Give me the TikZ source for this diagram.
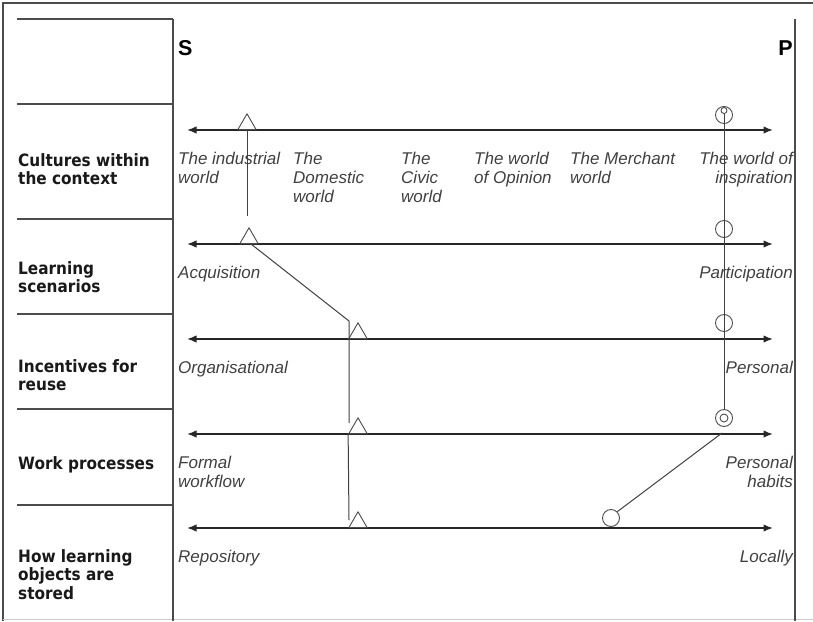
\documentclass[tikz,border=0pt]{standalone}
\usepackage{fontspec}
\setmainfont{Liberation Sans}
\newfontfamily\rowfont[FakeStretch=0.9]{DejaVu Sans}
\usetikzlibrary{arrows.meta,shapes.geometric}

\begin{document}
\begin{tikzpicture}[x=1pt,y=-1pt,
  frame/.style={draw=black!70,line width=1.6pt},
  rule/.style={draw=black!70,line width=1.2pt},
  axis/.style={draw=black!85,line width=1.6pt,
    {Latex[length=9.5pt,width=7.5pt]}-{Latex[length=9.5pt,width=7.5pt]}},
  link/.style={draw=black!75,line width=1pt},
  tri/.style={draw=black!70,line width=0.9pt,regular polygon,
    regular polygon sides=3,minimum size=21pt,inner sep=0pt,anchor=south},
  ring/.style={draw=black!70,line width=0.9pt,circle,minimum size=17pt,inner sep=0pt},
  rowlabel/.style={font=\rowfont\bfseries\fontsize{17}{18.5}\selectfont,
    align=left,anchor=north west,inner sep=0pt,text=black!90},
  pole/.style={font=\bfseries\fontsize{21.5}{21.5}\selectfont,inner sep=0pt},
  endL/.style={font=\itshape\fontsize{17}{19}\selectfont,align=left,
    anchor=north west,inner sep=0pt,text=black!75},
  endR/.style={endL,align=right,anchor=north east},
]
\useasboundingbox (0,0) rectangle (813,621);

% outer frame
\draw[frame] (3,621) -- (3,3) -- (813,3);
\draw[draw=black!20,line width=1pt] (3,619.5) -- (813,619.5);

% table rules
\draw[rule] (173,19) -- (173,621);
\draw[rule] (795,19) -- (795,621);
\foreach \yy in {19,104,219,314,409,505}
  \draw[rule] (17,\yy) -- (173,\yy);

% poles
\node[pole,anchor=base west] (S) at (178,55) {S};
\node[pole,anchor=base east] (P) at (793,55) {P};

% row labels
\node[rowlabel] (r1) at (18,153) {Cultures within\\the context};
\node[rowlabel] (r2) at (18,261) {Learning\\scenarios};
\node[rowlabel] (r3) at (18,359) {Incentives for\\reuse};
\node[rowlabel] (r4) at (18,456) {Work processes};
\node[rowlabel] (r5) at (18,549) {How learning\\objects are\\stored};

% axes
\foreach \i/\yy in {1/130,2/244,3/339,4/434,5/528}{
  \coordinate (aL\i) at (187,\yy);
  \coordinate (aR\i) at (773,\yy);
  \draw[axis] (aL\i) -- (aR\i);
}

% end labels
\node[endL] (l11) at (178,152) {The industrial\\world};
\node[endL] (l12) at (293,152) {The\\Domestic\\world};
\node[endL] (l13) at (401,152) {The\\Civic\\world};
\node[endL] (l14) at (474,152) {The world\\of Opinion};
\node[endL] (l15) at (570,152) {The Merchant\\world};
\node[endR] (l16) at (793,152) {The world of\\inspiration};

\node[endL] (l21) at (178,266) {Acquisition};
\node[endR] (l22) at (793,266) {Participation};
\node[endL] (l31) at (178,361) {Organisational};
\node[endR] (l32) at (793,361) {Personal};
\node[endL] (l41) at (178,456) {Formal\\workflow};
\node[endR] (l42) at (793,456) {Personal\\habits};
\node[endL] (l51) at (178,550) {Repository};
\node[endR] (l52) at (793,550) {Locally};

% S-profile markers
\node[tri] (t1) at (247,130) {};
\node[tri] (t2) at (249,244) {};
\node[tri] (t3) at (358,339) {};
\node[tri] (t4) at (358,434) {};
\node[tri] (t5) at (358,528) {};

\coordinate (e1) at (247,216);
\coordinate (k1) at (349,321);
\coordinate (k2) at (349,423);
\coordinate (k4) at (349,520);
\draw[link] (t2.south) ++(2,0) -- (k1) -- (k2);
\draw[link] (t1.south) -- (e1);
\draw[link] (t4.corner 2) -- (k4);

% P-profile markers
\node[ring] (c1) at (724,115) {};
\node[ring,minimum size=6pt] (c1i) at (724,110.5) {};
\node[ring] (c2) at (724,229) {};
\node[ring] (c3) at (724,323) {};
\node[ring] (c4) at (724,418) {};
\node[ring,minimum size=8pt] (c4i) at (724,418) {};
\node[ring] (c5) at (611,518) {};

\coordinate (k5) at (722,433);
\draw[link] (c1i.south) -- (c4.north);
\draw[link] (k5) -- (c5.north east);
\end{tikzpicture}
\end{document}
